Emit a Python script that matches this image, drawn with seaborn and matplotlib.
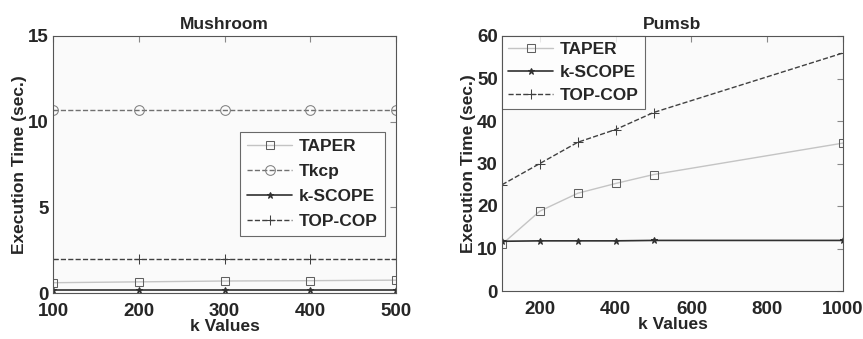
import matplotlib
matplotlib.use('Agg')
import matplotlib.pyplot as plt
import seaborn as sns
import pandas as pd

# Mushroom data
k_mush = [100, 200, 300, 400, 500]
taper_mush = [0.6, 0.65, 0.7, 0.72, 0.75]
tkcp_mush = [10.7, 10.7, 10.7, 10.7, 10.7]
kscope_mush = [0.15, 0.15, 0.15, 0.15, 0.15]
topcop_mush = [2.0, 2.0, 2.0, 2.0, 2.0]

# Pumsb data
k_pumsb = [100, 200, 300, 400, 500, 1000]
taper_pumsb = [11.0, 18.8, 23.0, 25.3, 27.4, 34.8]
kscope_pumsb = [11.7, 11.8, 11.8, 11.8, 11.9, 11.9]
topcop_pumsb = [25.0, 30.0, 35.0, 38.0, 42.0, 56.0]

sns.set_style('white')
plt.rcParams['font.family'] = ['Liberation Sans', 'DejaVu Sans']
plt.rcParams['font.weight'] = 'bold'

styles = {
    'TAPER': dict(color='#c4c4c4', ls='-', marker='s', ms=6, mfc='none', mec='#606060', lw=1),
    'Tkcp': dict(color='#707070', ls='--', marker='o', ms=7, mfc='none', mec='#808080', lw=1),
    'k-SCOPE': dict(color='#303030', ls='-', marker='*', ms=5, mfc='#303030', mec='#303030', lw=1.2),
    'TOP-COP': dict(color='#404040', ls='--', marker='+', ms=7, mfc='none', mec='#404040', lw=1),
}

fig = plt.figure(figsize=(8.63, 3.39), dpi=100)
ax1 = fig.add_axes([53/863, 1 - 293/339, 343/863, 257/339])
ax2 = fig.add_axes([502/863, 1 - 291/339, 341/863, 255/339])

d1 = pd.DataFrame({'k': k_mush, 'TAPER': taper_mush, 'Tkcp': tkcp_mush,
                   'k-SCOPE': kscope_mush, 'TOP-COP': topcop_mush})
for name in ['TAPER', 'Tkcp', 'k-SCOPE', 'TOP-COP']:
    sns.lineplot(data=d1, x='k', y=name, ax=ax1, label=name, **styles[name])

d2 = pd.DataFrame({'k': k_pumsb, 'TAPER': taper_pumsb,
                   'k-SCOPE': kscope_pumsb, 'TOP-COP': topcop_pumsb})
for name in ['TAPER', 'k-SCOPE', 'TOP-COP']:
    sns.lineplot(data=d2, x='k', y=name, ax=ax2, label=name, **styles[name])

ax1.set_xlim(100, 500)
ax1.set_ylim(0, 15)
ax1.set_xticks([100, 200, 300, 400, 500])
ax1.set_yticks([0, 5, 10, 15])
ax1.set_title('Mushroom', fontsize=12.5, fontweight='bold', pad=5)

ax2.set_xlim(100, 1000)
ax2.set_ylim(0, 60)
ax2.set_xticks([200, 400, 600, 800, 1000])
ax2.set_yticks([0, 10, 20, 30, 40, 50, 60])
ax2.set_title('Pumsb', fontsize=12.5, fontweight='bold', pad=5)

for ax in (ax1, ax2):
    ax.set_facecolor('#fafafa')
    ax.set_xlabel('k Values', fontsize=12.5, fontweight='bold', labelpad=-0.5)
    ax.set_ylabel('Execution Time (sec.)', fontsize=12.5, fontweight='bold', labelpad=1)
    ax.tick_params(direction='in', top=True, right=True, length=4, labelsize=13.5,
                   width=0.8, color='#888888')
    ax.tick_params(axis='x', pad=7)
    ax.tick_params(axis='y', pad=3)
    for lab in ax.get_xticklabels() + ax.get_yticklabels():
        lab.set_fontweight('bold')
    for sp in ax.spines.values():
        sp.set_color('#555555')
        sp.set_linewidth(0.8)

leg1 = ax1.legend(loc='upper right', bbox_to_anchor=(0.968, 0.625), fontsize=12.5,
                  frameon=True, fancybox=False, edgecolor='#444444', borderaxespad=0,
                  handlelength=2.6, borderpad=0.4, labelspacing=0.55, handletextpad=0.4)
leg2 = ax2.legend(loc='upper left', bbox_to_anchor=(0.0, 1.0), fontsize=12.5,
                  frameon=True, fancybox=False, edgecolor='#444444', borderaxespad=0,
                  handlelength=2.6, borderpad=0.35, labelspacing=0.45, handletextpad=0.4)
for leg in (leg1, leg2):
    leg.get_frame().set_linewidth(0.8)
    leg.get_frame().set_facecolor('white')
    for t in leg.get_texts():
        t.set_fontweight('bold')

fig.savefig('out.png', dpi=100)
